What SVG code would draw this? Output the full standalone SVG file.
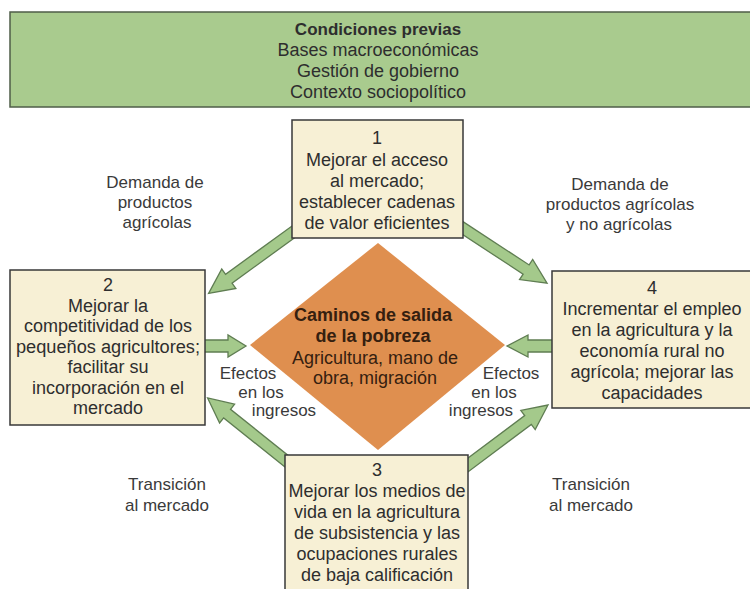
<svg xmlns="http://www.w3.org/2000/svg" width="750" height="589" viewBox="0 0 750 589">
<style>
text{font-family:"Liberation Sans",Arial,sans-serif;font-size:18px;fill:#2e2e2e;text-anchor:middle}
.b{font-weight:bold}
.lbl{font-size:17px;fill:#3a3a3a}
.box{fill:#f7f0d5;stroke:#383838;stroke-width:1.5}
.arr{fill:#a4c98b;stroke:#5f7d52;stroke-width:1.3;stroke-linejoin:miter}
.dt{fill:#35200f}
</style>
<rect width="750" height="589" fill="#ffffff"/>
<g id="condiciones">
<rect x="10" y="12" width="750" height="95" fill="#a9cb8e" stroke="#4f5e48" stroke-width="1.5"/>
<text x="378" y="35" class="b" style="font-size:17px">Condiciones previas</text>
<text x="378" y="56">Bases macroeconómicas</text>
<text x="378" y="77">Gestión de gobierno</text>
<text x="378" y="98">Contexto sociopolítico</text>
</g>
<g id="connectors">
<polygon class="arr" transform="translate(300,227) rotate(144)" points="0,-5.5 88,-5.5 88,-12 113,0 88,12 88,5.5 0,5.5"/>
<polygon class="arr" transform="translate(455,223) rotate(33.2)" points="0,-5.5 85,-5.5 85,-12 110,0 85,12 85,5.5 0,5.5"/>
<polygon class="arr" transform="translate(295,468) rotate(-141.3)" points="0,-5.5 87,-5.5 87,-12 112,0 87,12 87,5.5 0,5.5"/>
<polygon class="arr" transform="translate(460,471) rotate(-36.87)" points="0,-5.5 85,-5.5 85,-12 110,0 85,12 85,5.5 0,5.5"/>
<polygon class="arr" transform="translate(200,346)" points="0,-6 28,-6 28,-11 46,0 28,11 28,6 0,6"/>
<polygon class="arr" transform="translate(557,346) rotate(180)" points="0,-6 29,-6 29,-11 50,0 29,11 29,6 0,6"/>
</g>
<g id="caminos">
<polygon points="378,243 505,345 378,450 250,345" fill="#df8f4f"/>
<text x="373" y="321" class="b dt">Caminos de salida</text>
<text x="373" y="342" class="b dt">de la pobreza</text>
<text x="375" y="364" class="dt">Agricultura, mano de</text>
<text x="375" y="384" class="dt">obra, migración</text>
</g>
<g id="box1">
<rect class="box" x="292" y="120" width="171" height="118"/>
<text x="377" y="144">1</text>
<text x="377" y="166">Mejorar el acceso</text>
<text x="377" y="187">al mercado;</text>
<text x="377" y="208">establecer cadenas</text>
<text x="377" y="229">de valor eficientes</text>
</g>
<g id="box2">
<rect class="box" x="10" y="270" width="195" height="155"/>
<text x="108" y="291">2</text>
<text x="108" y="311.5">Mejorar la</text>
<text x="108" y="332">competitividad de los</text>
<text x="108" y="352.5" textLength="184" lengthAdjust="spacingAndGlyphs">pequeños agricultores;</text>
<text x="108" y="373">facilitar su</text>
<text x="108" y="393.5">incorporación en el</text>
<text x="108" y="414">mercado</text>
</g>
<g id="box4">
<rect class="box" x="552" y="271" width="205" height="137"/>
<text x="652" y="294">4</text>
<text x="652" y="315">Incrementar el empleo</text>
<text x="652" y="336">en la agricultura y la</text>
<text x="652" y="357">economía rural no</text>
<text x="652" y="378">agrícola; mejorar las</text>
<text x="652" y="399">capacidades</text>
</g>
<g id="box3">
<rect class="box" x="285" y="455" width="183" height="140"/>
<text x="377" y="476">3</text>
<text x="377" y="497">Mejorar los medios de</text>
<text x="377" y="518">vida en la agricultura</text>
<text x="377" y="539">de subsistencia y las</text>
<text x="377" y="560">ocupaciones rurales</text>
<text x="377" y="581">de baja calificación</text>
</g>
<g id="labels">
<text class="lbl" x="155" y="188">Demanda de</text>
<text class="lbl" x="155" y="208">productos</text>
<text class="lbl" x="157" y="228">agrícolas</text>
<text class="lbl" x="620" y="190">Demanda de</text>
<text class="lbl" x="620" y="210">productos agrícolas</text>
<text class="lbl" x="619" y="230">y no agrícolas</text>
<text class="lbl" x="248" y="379">Efectos</text>
<text class="lbl" x="261" y="398">en los</text>
<text class="lbl" x="284" y="416">ingresos</text>
<text class="lbl" x="511" y="379">Efectos</text>
<text class="lbl" x="494" y="398">en los</text>
<text class="lbl" x="481" y="416">ingresos</text>
<text class="lbl" x="167" y="490">Transición</text>
<text class="lbl" x="167" y="511">al mercado</text>
<text class="lbl" x="591" y="490">Transición</text>
<text class="lbl" x="591" y="511">al mercado</text>
</g>
</svg>
